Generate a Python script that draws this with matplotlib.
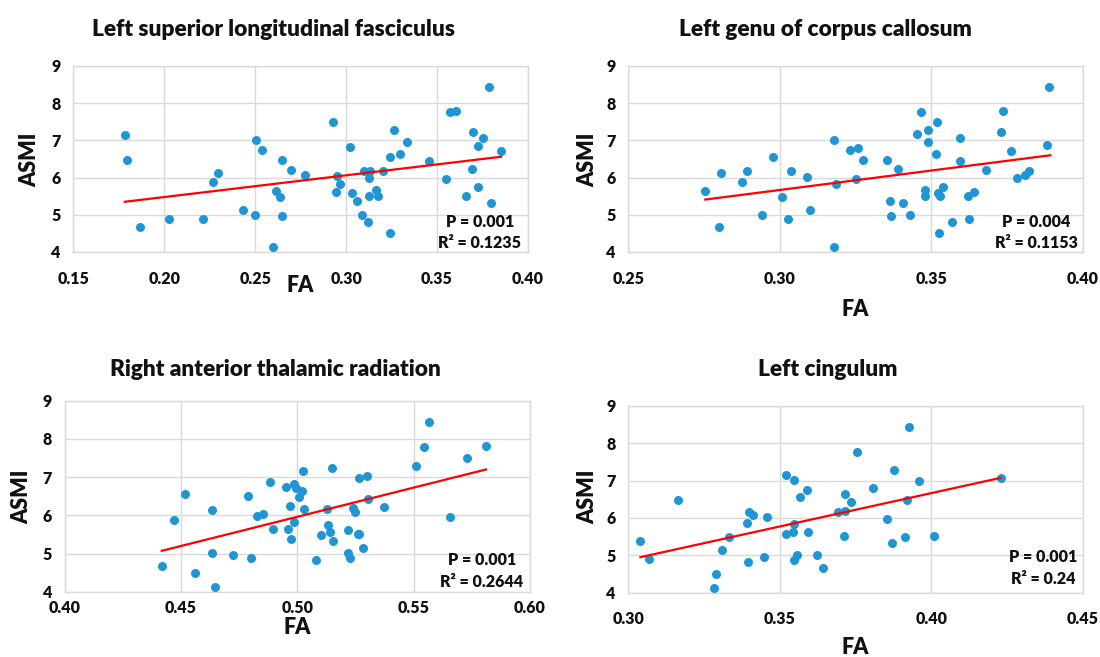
import matplotlib
matplotlib.use("Agg")
import matplotlib.pyplot as plt
import numpy as np

plt.rcParams['font.family'] = ['Lato', 'DejaVu Sans']
plt.rcParams['font.weight'] = 'bold'

W, H = 1100, 657

# ---------------- data ----------------
titles = ["Left superior longitudinal fasciculus", "Left genu of corpus callosum",
          "Right anterior thalamic radiation", "Left cingulum"]

slf_fa = [0.1783, 0.1794, 0.1864, 0.2028, 0.2212, 0.2269, 0.2293, 0.2435, 0.2497, 0.2505,
          0.2538, 0.2598, 0.2613, 0.2634, 0.2646, 0.2646, 0.2698, 0.2772, 0.2930, 0.2949,
          0.2965, 0.2943, 0.3020, 0.3035, 0.3059, 0.3085, 0.3096, 0.3129, 0.3125, 0.3120,
          0.3127, 0.3166, 0.3175, 0.3201, 0.3239, 0.3243, 0.3264, 0.3298, 0.3332, 0.3457,
          0.3551, 0.3571, 0.3606, 0.3661, 0.3694, 0.3700, 0.3725, 0.3725, 0.3750, 0.3786,
          0.3796, 0.3852]
slf_asmi = [7.15, 6.48, 4.67, 4.88, 4.90, 5.87, 6.13, 5.13, 5.00, 7.00,
            6.73, 4.13, 5.63, 5.49, 6.47, 4.96, 6.21, 6.08, 7.49, 6.03,
            5.84, 5.60, 6.81, 5.58, 5.38, 5.00, 6.19, 6.19, 5.98, 4.81,
            5.50, 5.66, 5.50, 6.19, 4.51, 6.56, 7.27, 6.63, 6.97, 6.44,
            5.96, 7.76, 7.80, 5.51, 6.23, 7.23, 6.86, 5.74, 7.06, 8.43,
            5.33, 6.71]

gcc_fa = [0.2754, 0.2807, 0.2800, 0.2875, 0.2892, 0.2940, 0.2977, 0.3008, 0.3027, 0.3037,
          0.3089, 0.3099, 0.3178, 0.3179, 0.3185, 0.3233, 0.3259, 0.3252, 0.3274, 0.3353,
          0.3364, 0.3367, 0.3390, 0.3406, 0.3428, 0.3454, 0.3464, 0.3490, 0.3490, 0.3478,
          0.3478, 0.3519, 0.3514, 0.3525, 0.3522, 0.3527, 0.3538, 0.3568, 0.3593, 0.3593,
          0.3619, 0.3625, 0.3639, 0.3681, 0.3728, 0.3736, 0.3764, 0.3781, 0.3808, 0.3821,
          0.3881, 0.3889]
gcc_asmi = [5.63, 6.13, 4.67, 5.87, 6.17, 5.00, 6.55, 5.49, 4.90, 6.19,
            6.02, 5.13, 4.14, 7.00, 5.83, 6.73, 6.80, 5.95, 6.48, 6.48,
            5.38, 4.96, 6.23, 5.33, 5.00, 7.16, 7.76, 7.27, 6.97, 5.67,
            5.50, 7.49, 6.63, 4.51, 5.58, 5.51, 5.74, 4.81, 7.06, 6.44,
            5.50, 4.88, 5.60, 6.21, 7.23, 7.80, 6.71, 5.99, 6.07, 6.19,
            6.87, 8.43]

atr_fa = [0.4420, 0.4470, 0.4518, 0.4559, 0.4633, 0.4633, 0.4645, 0.4725, 0.4787, 0.4801,
          0.4825, 0.4851, 0.4884, 0.4897, 0.4953, 0.4961, 0.4967, 0.4973, 0.4984, 0.4986,
          0.4994, 0.5006, 0.5020, 0.5026, 0.5027, 0.5080, 0.5103, 0.5129, 0.5132, 0.5140,
          0.5150, 0.5153, 0.5219, 0.5218, 0.5228, 0.5241, 0.5249, 0.5259, 0.5264, 0.5265,
          0.5281, 0.5298, 0.5302, 0.5374, 0.5509, 0.5543, 0.5567, 0.5656, 0.5729, 0.5811]
atr_asmi = [4.66, 5.88, 6.57, 4.50, 6.15, 5.01, 4.12, 4.96, 6.50, 4.89,
            5.99, 6.03, 6.88, 5.63, 6.75, 5.65, 6.24, 5.38, 6.83, 5.83,
            6.71, 6.48, 6.64, 7.17, 6.17, 4.82, 5.49, 6.17, 5.75, 5.57,
            7.24, 5.33, 5.61, 5.01, 4.87, 6.18, 6.08, 5.52, 5.52, 6.98,
            5.14, 7.03, 6.43, 6.22, 7.28, 7.78, 8.44, 5.96, 7.50, 7.81]

cing_fa = [0.3040, 0.3068, 0.3165, 0.3283, 0.3290, 0.3310, 0.3331, 0.3392, 0.3395, 0.3398,
           0.3410, 0.3447, 0.3457, 0.3519, 0.3521, 0.3542, 0.3545, 0.3547, 0.3547, 0.3555,
           0.3568, 0.3589, 0.3592, 0.3621, 0.3643, 0.3692, 0.3714, 0.3715, 0.3713, 0.3736,
           0.3756, 0.3808, 0.3852, 0.3870, 0.3878, 0.3914, 0.3918, 0.3926, 0.3959, 0.4008,
           0.4228]
cing_asmi = [5.38, 4.89, 6.49, 4.13, 4.50, 5.13, 5.49, 5.87, 4.81, 6.15,
             6.07, 4.95, 6.02, 5.57, 7.16, 5.61, 7.01, 5.85, 4.87, 5.01,
             6.56, 6.75, 5.61, 5.00, 4.67, 6.17, 6.18, 6.64, 5.52, 6.43,
             7.77, 6.81, 5.96, 5.33, 7.28, 5.50, 6.49, 8.44, 6.98, 5.51,
             7.07]

# trend line end points
slf_line_x, slf_line_y = [0.1783, 0.3852], [5.35, 6.56]
gcc_line_x, gcc_line_y = [0.2754, 0.3892], [5.41, 6.60]
atr_line_x, atr_line_y = [0.4417, 0.5811], [5.07, 7.20]
cing_line_x, cing_line_y = [0.3040, 0.4228], [4.95, 7.07]

p_texts = ["P = 0.001", "P = 0.004", "P = 0.001", "P = 0.001"]
r2_texts = ["R\u00b2 = 0.1235", "R\u00b2 = 0.1153", "R\u00b2 = 0.2644", "R\u00b2 = 0.24"]

slf_xticks = [0.15, 0.20, 0.25, 0.30, 0.35, 0.40]
gcc_xticks = [0.25, 0.30, 0.35, 0.40]
atr_xticks = [0.40, 0.45, 0.50, 0.55, 0.60]
cing_xticks = [0.30, 0.35, 0.40, 0.45]
yticks = [4, 5, 6, 7, 8, 9]

# ---------------- layout (pixels) ----------------
panels = [
    dict(fa=slf_fa, asmi=slf_asmi, lx=slf_line_x, ly=slf_line_y, xt=slf_xticks,
         box=(73.3, 66, 528, 252), title=(274, 29), fa_lbl=(300, 285), asmi_lbl=(30, 160),
         txt=(480, 222, 243), xpad=14, ypad=9),
    dict(fa=gcc_fa, asmi=gcc_asmi, lx=gcc_line_x, ly=gcc_line_y, xt=gcc_xticks,
         box=(628.3, 66, 1083, 252), title=(825, 29), fa_lbl=(855, 310), asmi_lbl=(588, 160),
         txt=(1036, 222, 243), xpad=14, ypad=9),
    dict(fa=atr_fa, asmi=atr_asmi, lx=atr_line_x, ly=atr_line_y, xt=atr_xticks,
         box=(64.7, 400.7, 530, 591.7), title=(275, 369), fa_lbl=(297, 627), asmi_lbl=(22, 497),
         txt=(482, 560, 582), xpad=6, ypad=9),
    dict(fa=cing_fa, asmi=cing_asmi, lx=cing_line_x, ly=cing_line_y, xt=cing_xticks,
         box=(628.3, 405.7, 1083, 592.7), title=(828, 369), fa_lbl=(855, 648), asmi_lbl=(588, 497),
         txt=(1043, 557, 579), xpad=13, ypad=9),
]

dot_color = '#1F95D3'
grid_color = '#D9D9D9'
heavy = 'heavy'

fig = plt.figure(figsize=(W / 100, H / 100), dpi=100)

for i, p in enumerate(panels):
    x0, y0, x1, y1 = p['box']
    ax = fig.add_axes([x0 / W, 1 - y1 / H, (x1 - x0) / W, (y1 - y0) / H])
    ax.scatter(p['fa'], p['asmi'], s=42, color=dot_color, zorder=3, linewidths=0)
    ax.plot(p['lx'], p['ly'], color='#FF0000', lw=1.6, zorder=4)
    ax.set_xlim(p['xt'][0], p['xt'][-1])
    ax.set_ylim(4, 9)
    ax.set_xticks(p['xt'])
    ax.set_xticklabels([f"{v:.2f}" for v in p['xt']])
    ax.set_yticks(yticks)
    ax.set_yticklabels([str(v) for v in yticks])
    ax.grid(True, color=grid_color, lw=1.0, zorder=0)
    ax.set_axisbelow(True)
    for sp in ax.spines.values():
        sp.set_color(grid_color)
        sp.set_linewidth(1.0)
    ax.tick_params(length=0, labelsize=11.5, pad=p['xpad'], axis='x', labelcolor='#111111')
    ax.tick_params(length=0, labelsize=11.5, pad=p['ypad'], axis='y', labelcolor='#111111')
    for lab in ax.get_xticklabels() + ax.get_yticklabels():
        lab.set_fontweight(heavy)
    fig.text(p['title'][0] / W, 1 - p['title'][1] / H, titles[i], ha='center', va='center',
             fontsize=16.3, fontweight=heavy, color='#111111')
    fig.text(p['fa_lbl'][0] / W, 1 - p['fa_lbl'][1] / H, 'FA', ha='center', va='center',
             fontsize=15.5, fontweight=heavy, color='#111111')
    fig.text(p['asmi_lbl'][0] / W, 1 - p['asmi_lbl'][1] / H, 'ASMI', ha='center', va='center',
             fontsize=15.5, fontweight=heavy, rotation=90, color='#111111')
    tx, ty1, ty2 = p['txt']
    fig.text(tx / W, 1 - ty1 / H, p_texts[i], ha='center', va='center', fontsize=11.5,
             fontweight=heavy, color='#111111')
    fig.text(tx / W, 1 - ty2 / H, r2_texts[i], ha='center', va='center', fontsize=11.5,
             fontweight=heavy, color='#111111')

fig.savefig('out.png', dpi=100)
